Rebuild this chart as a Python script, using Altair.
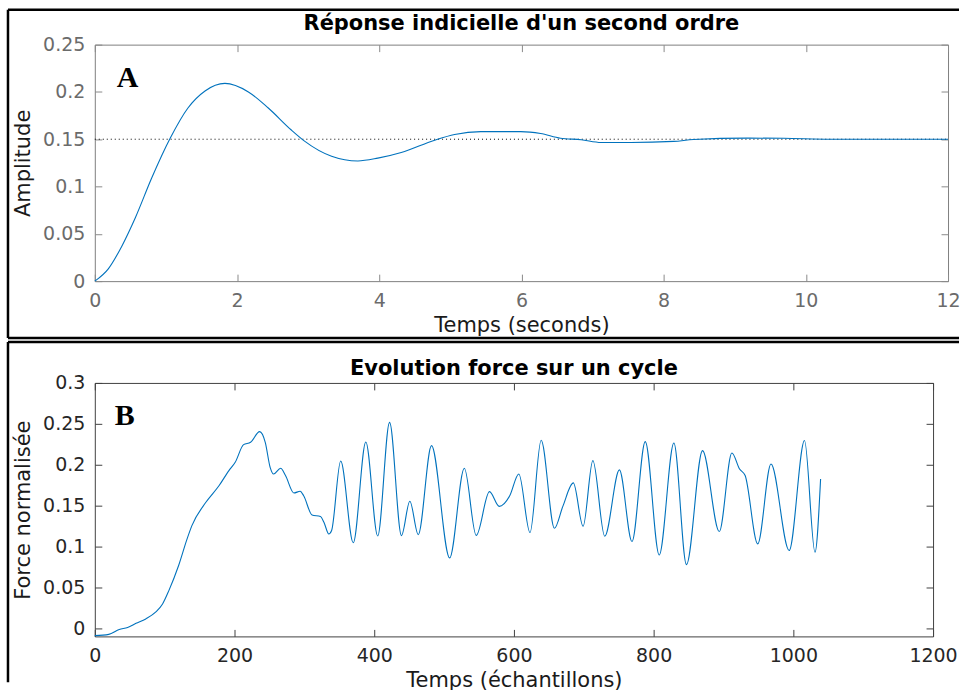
import altair as alt
import pandas as pd

# ---------------- Panel A : step response ----------------
t_s = [0, 0.19, 0.38, 0.57, 0.8, 1.06, 1.31, 1.55, 1.83, 2.16, 2.44, 2.76, 2.95,
       3.33, 3.7, 3.98, 4.31, 4.78, 5.06, 5.43, 5.99, 6.27, 6.55, 6.84, 7.12,
       7.54, 8.14, 8.42, 9.17, 9.69, 10.34, 11.0, 12.0]
amp = [0, 0.013, 0.037, 0.067, 0.109, 0.151, 0.183, 0.201, 0.209, 0.200, 0.183,
       0.160, 0.148, 0.132, 0.127, 0.130, 0.136, 0.149, 0.155, 0.158, 0.158,
       0.156, 0.151, 0.1495, 0.1466, 0.1466, 0.1477, 0.1497, 0.1512, 0.151,
       0.150, 0.150, 0.150]
steady = 0.15

# ---------------- Panel B : force over a cycle ----------------
samples = [0, 20, 35, 47, 59, 73, 87, 97, 106, 120, 132, 139, 159, 178, 192, 201,
           213, 223, 236, 244, 251, 256, 266, 273, 285, 294, 299, 311, 323, 328,
           335, 339, 352, 370, 388, 405, 422, 439, 451, 463, 482, 508, 529, 546,
           565, 579, 594, 607, 623, 639, 658, 670, 685, 699, 713, 730, 751, 769,
           788, 808, 829, 847, 870, 894, 912, 923, 931, 949, 968, 994, 1016,
           1031, 1039]
force = [-0.009, -0.0075, -0.0015, 0.001, 0.006, 0.0114, 0.0196, 0.0297, 0.046,
         0.0767, 0.109, 0.1255, 0.154, 0.1745, 0.1928, 0.203, 0.2245, 0.2274,
         0.2404, 0.2274, 0.1968, 0.1886, 0.1956, 0.1867, 0.1654, 0.1675, 0.162,
         0.1385, 0.1366, 0.1296, 0.1153, 0.1195, 0.2045, 0.1045, 0.2278, 0.1128,
         0.2518, 0.1133, 0.1553, 0.1145, 0.2233, 0.086, 0.1956, 0.1135, 0.167,
         0.149, 0.162, 0.1887, 0.117, 0.2298, 0.1222, 0.149, 0.1777, 0.1247,
         0.205, 0.1125, 0.1936, 0.106, 0.2282, 0.0896, 0.2265, 0.0778, 0.2172,
         0.1182, 0.2143, 0.1947, 0.1867, 0.1031, 0.2009, 0.095, 0.2295, 0.0929,
         0.1825]

A_ticks_x = [0, 2, 4, 6, 8, 10, 12]
A_ticks_y = [0, 0.05, 0.1, 0.15, 0.2, 0.25]
B_ticks_x = [0, 200, 400, 600, 800, 1000, 1200]
B_ticks_y = [0, 0.05, 0.1, 0.15, 0.2, 0.25, 0.3]
titleA = "Réponse indicielle d'un second ordre"
titleB = "Evolution force sur un cycle"

FONT = "DejaVu Sans"
BLUE = "#0072BD"
W1, H1 = 855, 237
W2, H2 = 840, 254
TICK = 7


def frame_rules(x_left, y_top, y_bottom, x_right, bottom_line):
    d = pd.DataFrame({"k": [0]})
    base = alt.Chart(d).mark_rule(color="black", strokeWidth=2.5)
    parts = [
        base.encode(x=alt.value(x_left), x2=alt.value(x_right), y=alt.value(y_top)),
        base.encode(x=alt.value(x_left), y=alt.value(y_top), y2=alt.value(y_bottom)),
    ]
    if bottom_line:
        parts.append(base.encode(x=alt.value(x_left), x2=alt.value(x_right),
                                 y=alt.value(y_bottom)))
    return parts


def panel_title(text, width, y_baseline):
    d = pd.DataFrame({"s": [text]})
    return alt.Chart(d).mark_text(font=FONT, fontSize=21, fontWeight="bold",
                                  color="black", baseline="alphabetic",
                                  align="center").encode(
        x=alt.value(width / 2), y=alt.value(y_baseline), text="s:N")


def main_axis(orient, values, fmt, title, label_color, tick_color, title_pad):
    return alt.Axis(orient=orient, values=values, format=fmt, title=title,
                    grid=False, domain=False, ticks=True, tickSize=TICK,
                    offset=-TICK, tickColor=tick_color, tickWidth=1,
                    labelFont=FONT, labelFontSize=19, labelColor=label_color,
                    labelPadding=10, labelFlush=False, labelOverlap=False,
                    titleFont=FONT, titleFontSize=21, titleFontWeight="normal",
                    titleColor="#1a1a1a", titlePadding=title_pad)


def mirror_axis(orient, values, tick_color):
    return alt.Axis(orient=orient, values=values, labels=False, title=None,
                    grid=False, domain=False, ticks=True, tickSize=TICK,
                    offset=-TICK, tickColor=tick_color, tickWidth=1)


# ---------------- chart A ----------------
dfA = pd.DataFrame({"t": t_s, "a": amp})
dfS = pd.DataFrame({"x0": [A_ticks_x[0]], "x1": [A_ticks_x[-1]], "y": [steady]})
xA = alt.Scale(domain=[0, 12], nice=False, zero=False)
yA = alt.Scale(domain=[0, 0.25], nice=False, zero=False)
colA_lab, colA_tick = "#6b6b6b", "#8a8a8a"

ruleA = alt.Chart(dfS).mark_rule(color="black", strokeDash=[1, 3], strokeWidth=1).encode(
    x=alt.X("x0:Q", scale=xA, axis=mirror_axis("top", A_ticks_x, colA_tick)),
    x2="x1:Q",
    y=alt.Y("y:Q", scale=yA, axis=mirror_axis("right", A_ticks_y, colA_tick)),
)
lineA = alt.Chart(dfA).mark_line(color=BLUE, strokeWidth=1.1, interpolate="monotone").encode(
    x=alt.X("t:Q", scale=xA,
            axis=main_axis("bottom", A_ticks_x, "d", "Temps (seconds)", colA_lab, colA_tick, 4)),
    y=alt.Y("a:Q", scale=yA,
            axis=main_axis("left", A_ticks_y, "~g", "Amplitude", colA_lab, colA_tick, 9)),
)
textA = alt.Chart(pd.DataFrame({"x": [0.46], "y": [0.215], "s": ["A"]})).mark_text(
    font="Liberation Serif", fontWeight="bold", fontSize=30, color="black").encode(
    x=alt.X("x:Q", scale=xA, axis=None), y=alt.Y("y:Q", scale=yA, axis=None), text="s:N")

chartA = alt.layer(ruleA, lineA, textA, panel_title(titleA, W1, -15),
                   *frame_rules(-87, -35, 294, 866, True)).properties(
    width=W1, height=H1,
    view=alt.ViewBackground(stroke="#808080", strokeWidth=1),
)

# ---------------- chart B ----------------
dfB = pd.DataFrame({"n": samples, "f": force})
xB = alt.Scale(domain=[0, 1200], nice=False, zero=False)
yB = alt.Scale(domain=[-0.01, 0.3], nice=False, zero=False)
colB_lab, colB_tick = "#262626", "#404040"

ghostB = alt.Chart(dfB).mark_line(strokeOpacity=0).encode(
    x=alt.X("n:Q", scale=xB, axis=mirror_axis("top", B_ticks_x, colB_tick)),
    y=alt.Y("f:Q", scale=yB, axis=mirror_axis("right", B_ticks_y, colB_tick)),
)
lineB = alt.Chart(dfB).mark_line(color=BLUE, strokeWidth=1.1, interpolate="monotone").encode(
    x=alt.X("n:Q", scale=xB,
            axis=main_axis("bottom", B_ticks_x, "d", "Temps (échantillons)", colB_lab, colB_tick, 4)),
    y=alt.Y("f:Q", scale=yB,
            axis=main_axis("left", B_ticks_y, "~g", "Force normalisée", colB_lab, colB_tick, 9)),
)
textB = alt.Chart(pd.DataFrame({"x": [43], "y": [0.26], "s": ["B"]})).mark_text(
    font="Liberation Serif", fontWeight="bold", fontSize=30, color="black").encode(
    x=alt.X("x:Q", scale=xB, axis=None), y=alt.Y("y:Q", scale=yB, axis=None), text="s:N")

chartB = alt.layer(ghostB, lineB, textB, panel_title(titleB, W2, -8),
                   *frame_rules(-87, -41, 300, 866, False)).properties(
    width=W2, height=H2,
    view=alt.ViewBackground(stroke="#404040", strokeWidth=1),
)

chart = alt.vconcat(chartA, chartB, spacing=0).properties(
    padding={"left": 6, "top": 7, "right": 0, "bottom": 0},
    background="white",
).configure(font=FONT)

chart.save("out.html", embed_options={"renderer": "svg", "actions": False})
